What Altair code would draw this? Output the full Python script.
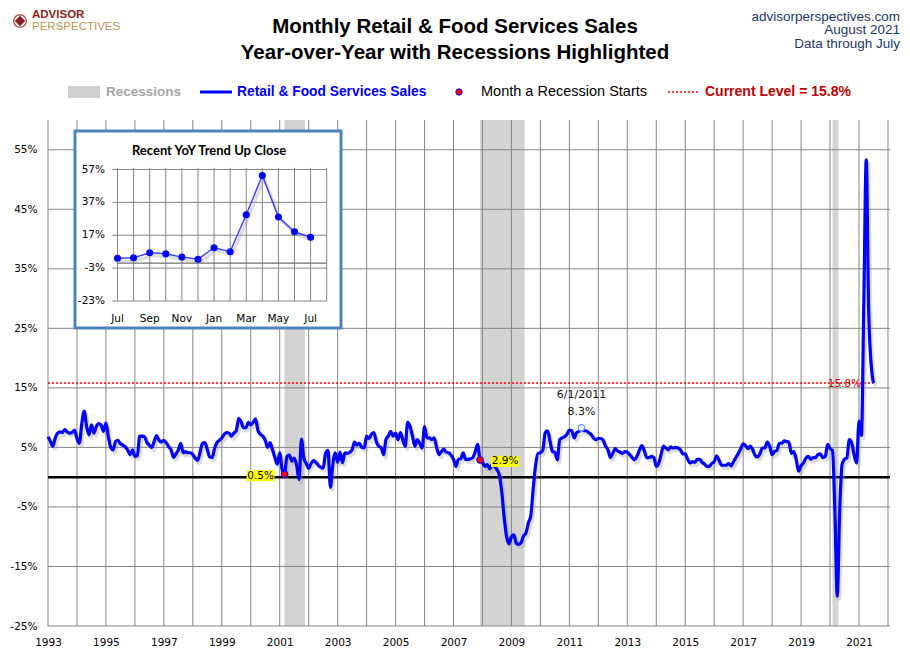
import altair as alt
import pandas as pd

# ---------------- data ----------------
# Year-over-year % change, monthly Jan..Dec
yoy_1993 = [6.8, 6.0, 5.2, 6.6, 7.4, 7.6, 7.5, 8.0, 7.6, 7.4, 7.5, 7.9]
yoy_1994 = [6.5, 5.7, 9.0, 11.1, 8.5, 7.1, 8.8, 7.4, 8.5, 9.0, 8.8, 7.7]
yoy_1995 = [9.1, 6.8, 5.0, 4.6, 6.0, 6.2, 5.6, 5.4, 5.1, 4.6, 3.8, 4.6]
yoy_1996 = [3.5, 3.6, 6.9, 6.9, 6.8, 5.8, 5.4, 5.0, 6.0, 7.0, 6.2, 5.9]
yoy_1997 = [6.2, 5.8, 5.1, 4.6, 3.3, 3.9, 4.6, 5.7, 4.1, 4.3, 4.1, 4.1]
yoy_1998 = [3.8, 3.2, 2.8, 4.2, 5.7, 5.8, 4.6, 3.4, 3.3, 4.8, 5.8, 6.2]
yoy_1999 = [6.6, 7.2, 7.5, 7.4, 6.9, 7.4, 7.8, 9.9, 9.3, 8.3, 8.3, 9.2]
yoy_2000 = [8.8, 9.2, 9.8, 7.8, 7.2, 6.9, 6.2, 5.0, 5.8, 4.6, 3.3, 2.2]
yoy_2001 = [4.1, 1.3, 0.5, 3.5, 3.7, 2.7, 3.2, 2.0, -0.4, 6.4, 3.2, 2.3]
yoy_2002 = [1.5, 2.3, 2.8, 2.5, 2.0, 1.7, 1.5, 4.0, 4.5, -1.7, 2.1, 4.1]
yoy_2003 = [2.5, 4.2, 2.4, 4.1, 4.0, 4.2, 4.6, 5.9, 5.4, 5.7, 5.0, 4.9]
yoy_2004 = [6.9, 6.5, 7.2, 7.5, 6.0, 5.2, 5.0, 3.8, 6.3, 6.9, 7.7, 6.9]
yoy_2005 = [7.4, 6.3, 7.5, 6.3, 5.2, 9.2, 8.5, 6.9, 5.2, 6.3, 5.7, 4.9]
yoy_2006 = [8.5, 6.6, 6.6, 6.3, 6.6, 5.0, 3.8, 4.3, 4.7, 4.2, 4.1, 3.7]
yoy_2007 = [3.0, 1.8, 3.0, 3.1, 4.1, 3.0, 3.0, 3.1, 3.3, 4.3, 5.5, 2.9]
yoy_2008 = [2.5, 1.8, 2.1, 1.4, 2.1, 1.8, 1.3, 0.3, -2.5, -6.8, -10.0, -11.2]
yoy_2009 = [-10.0, -9.7, -11.1, -11.3, -11.0, -9.9, -9.4, -7.7, -6.5, -2.0, 2.0, 4.0]
yoy_2010 = [4.1, 4.6, 7.5, 7.8, 6.0, 4.3, 4.2, 2.9, 6.3, 6.6, 6.8, 7.2]
yoy_2011 = [7.9, 7.8, 6.6, 7.5, 7.7, 8.3, 7.8, 7.8, 7.5, 7.2, 6.6, 6.3]
yoy_2012 = [6.5, 6.5, 6.2, 5.2, 4.6, 3.3, 4.0, 4.8, 4.4, 4.2, 4.0, 4.3]
yoy_2013 = [4.2, 3.8, 3.3, 2.9, 3.5, 4.5, 5.3, 4.5, 3.3, 3.3, 3.5, 3.3]
yoy_2014 = [1.8, 2.3, 3.8, 5.2, 4.9, 4.6, 5.1, 4.9, 5.0, 4.9, 4.6, 3.9]
yoy_2015 = [3.9, 3.0, 2.4, 2.6, 2.5, 3.0, 3.0, 2.5, 2.2, 1.8, 1.8, 2.3]
yoy_2016 = [2.6, 3.6, 2.9, 2.0, 2.0, 2.0, 2.3, 1.9, 2.6, 3.3, 4.0, 4.8]
yoy_2017 = [5.6, 5.3, 4.8, 5.2, 4.6, 3.6, 3.4, 4.0, 4.9, 4.9, 5.9, 5.2]
yoy_2018 = [3.8, 4.3, 4.5, 5.7, 5.7, 6.1, 6.0, 5.8, 4.0, 4.3, 2.9, 1.0]
yoy_2019 = [1.9, 2.4, 3.2, 3.5, 3.0, 3.3, 3.3, 3.8, 3.9, 3.3, 3.5, 5.5]
yoy_2020 = [4.8, 4.5, -5.6, -20.0, -5.6, 2.2, 3.0, 3.3, 6.3, 5.7, 3.7, 2.4]
yoy_2021 = [9.4, 7.0, 29.5, 53.3, 28.1, 19.1, 15.8]

series_years = list(range(1993, 2022))
series_values = [yoy_1993, yoy_1994, yoy_1995, yoy_1996, yoy_1997, yoy_1998,
                 yoy_1999, yoy_2000, yoy_2001, yoy_2002, yoy_2003, yoy_2004,
                 yoy_2005, yoy_2006, yoy_2007, yoy_2008, yoy_2009, yoy_2010,
                 yoy_2011, yoy_2012, yoy_2013, yoy_2014, yoy_2015, yoy_2016,
                 yoy_2017, yoy_2018, yoy_2019, yoy_2020, yoy_2021]

recession_starts = ["2001-03", "2007-12", "2020-02"]
recession_ends = ["2001-11", "2009-06", "2020-04"]
recession_start_dots = ["2001-03", "2007-12"]
recession_dot_labels = ["0.5%", "2.9%"]
peak_month = "2011-06"
peak_labels = ["6/1/2011", "8.3%"]
current_level = 15.8
current_label = "15.8%"

y_ticks = [-25, -15, -5, 5, 15, 25, 35, 45, 55]
x_label_years = list(range(1993, 2022, 2))
grid_years = list(range(1993, 2023))
x_min, x_max = 1993.0, 2022.07
y_min, y_max = -25, 60

inset_month_names = ["Jul", "Aug", "Sep", "Oct", "Nov", "Dec", "Jan", "Feb",
                     "Mar", "Apr", "May", "Jun", "Jul"]
inset_ticks = [-23, -3, 17, 37, 57]
inset_label_every = 2

# ---------------- tables ----------------
def month_t(s):
    y, m = s.split("-")
    return int(y) + (int(m) - 1) / 12.0

rows = []
for yr, vals in zip(series_years, series_values):
    for m, v in enumerate(vals):
        rows.append({"t": yr + m / 12.0, "v": v, "ym": f"{yr}-{m + 1:02d}"})
main_df = pd.DataFrame(rows)
lookup = dict(zip(main_df["ym"], main_df["v"]))

rec_df = pd.DataFrame({
    "start": [month_t(s) for s in recession_starts],
    "end": [month_t(e) + 0.5 / 12 for e in recession_ends],
    "y0": y_min, "y1": y_max})
hgrid_df = pd.DataFrame({"y": y_ticks, "x0": x_min, "x1": x_max})
vgrid_df = pd.DataFrame({"x": grid_years, "y0": y_min, "y1": y_max})
zero_df = pd.DataFrame({"y": [0], "x0": [x_min], "x1": [x_max]})
cur_df = pd.DataFrame({"y": [current_level], "x0": [main_df["t"].min()],
                       "x1": [main_df["t"].max()]})
dots_df = pd.DataFrame({"t": [month_t(s) for s in recession_start_dots],
                        "v": [lookup[s] for s in recession_start_dots],
                        "lab": recession_dot_labels})
peak_df = pd.DataFrame({"t": [month_t(peak_month)], "v": [lookup[peak_month]],
                        "l1": [peak_labels[0]], "l2": [peak_labels[1]]})
curlab_df = pd.DataFrame({"t": [2020.5], "v": [current_level], "lab": [current_label]})

inset_vals = main_df["v"].tolist()[-len(inset_month_names):]
inset_df = pd.DataFrame({"i": list(range(len(inset_month_names))),
                         "v": inset_vals, "m": inset_month_names})
inset_lab_df = inset_df[inset_df["i"] % inset_label_every == 0]
n_int = len(inset_month_names)
ihgrid_df = pd.DataFrame({"y": inset_ticks, "x0": -0.33, "x1": n_int,
                          "lab": [f"{t}%" for t in inset_ticks]})
ivgrid_df = pd.DataFrame({"x": list(range(n_int + 1)), "y0": inset_ticks[0],
                          "y1": inset_ticks[-1] + 1})
izero_df = pd.DataFrame({"y": [0], "x0": [0], "x1": [n_int]})

# ---------------- main scales ----------------
xs = alt.Scale(domain=[x_min, x_max], nice=False, zero=False)
ys = alt.Scale(domain=[y_min, y_max], nice=False, zero=False)
x_axis = alt.Axis(values=x_label_years, format="d", labelFlush=False,
                  labelPadding=11, title=None)
y_axis = alt.Axis(values=y_ticks, labelExpr="datum.value + '%'",
                  labelPadding=11, title=None)

def X(f):
    return alt.X(f, type="quantitative", scale=xs, axis=x_axis)

def Y(f):
    return alt.Y(f, type="quantitative", scale=ys, axis=y_axis)

GRID = "#868686"

shade = alt.Chart(rec_df).mark_rect(color="#D3D3D3").encode(
    x=X("start"), x2="end", y=Y("y0"), y2="y1")
vgrid = alt.Chart(vgrid_df).mark_rule(color=GRID, strokeWidth=1).encode(
    x=X("x"), y=Y("y0"), y2="y1")
hgrid = alt.Chart(hgrid_df).mark_rule(color=GRID, strokeWidth=1).encode(
    x=X("x0"), x2="x1", y=Y("y"))
zero = alt.Chart(zero_df).mark_rule(color="black", strokeWidth=2.5).encode(
    x=X("x0"), x2="x1", y=Y("y"))
cur = alt.Chart(cur_df).mark_rule(color="#FF0000", strokeWidth=1.5,
                                  strokeDash=[2, 2]).encode(
    x=X("x0"), x2="x1", y=Y("y"))
shadow = alt.Chart(main_df).mark_line(color="#9a9aa8", strokeWidth=3.5, opacity=0.35,
                                      interpolate="monotone", xOffset=2, yOffset=3).encode(
    x=X("t"), y=Y("v"))
line = alt.Chart(main_df).mark_line(color="#0000FF", strokeWidth=3.2,
                                    interpolate="monotone", strokeJoin="round").encode(
    x=X("t"), y=Y("v"))
dots = alt.Chart(dots_df).mark_point(filled=True, fill="#FF0000", stroke="#0000FF",
                                     strokeWidth=1, size=45, opacity=1).encode(
    x=X("t"), y=Y("v"))
peak = alt.Chart(peak_df).mark_point(filled=True, fill="white", stroke="#6495ED",
                                     strokeWidth=1.2, size=40, opacity=1).encode(
    x=X("t"), y=Y("v"))
peak_t1 = alt.Chart(peak_df).mark_text(font="DejaVu Sans", fontSize=11, dy=-33,
                                       color="#111").encode(x=X("t"), y=Y("v"), text="l1:N")
peak_t2 = alt.Chart(peak_df).mark_text(font="DejaVu Sans", fontSize=11, dy=-16,
                                       color="#111").encode(x=X("t"), y=Y("v"), text="l2:N")

d1 = dots_df.iloc[[0]]
d2 = dots_df.iloc[[1]]
box1 = alt.Chart(d1).mark_rect(color="#FFFF00", xOffset=-38, x2Offset=-10,
                               yOffset=-4, y2Offset=7).encode(
    x=X("t"), x2="t", y=Y("v"), y2="v")
txt1 = alt.Chart(d1).mark_text(font="DejaVu Sans", fontSize=10.5, dx=-24, dy=1.5,
                               color="black").encode(x=X("t"), y=Y("v"), text="lab:N")
box2 = alt.Chart(d2).mark_rect(color="#FFFF00", xOffset=11, x2Offset=39,
                               yOffset=-4, y2Offset=7).encode(
    x=X("t"), x2="t", y=Y("v"), y2="v")
txt2 = alt.Chart(d2).mark_text(font="DejaVu Sans", fontSize=10.5, dx=25, dy=1.5,
                               color="black").encode(x=X("t"), y=Y("v"), text="lab:N")
curlab = alt.Chart(curlab_df).mark_text(font="DejaVu Sans", fontSize=10.5, dy=1,
                                        color="#D00000").encode(
    x=X("t"), y=Y("v"), text="lab:N")

# ---------------- header & legend (layout annotations) ----------------
SANS = "Liberation Sans, Arial, sans-serif"

def label(text, x, y, **kw):
    return alt.Chart(pd.DataFrame({"s": [text]})).mark_text(baseline="middle", **kw).encode(
        x=alt.value(x), y=alt.value(y), text="s:N")

title1 = label("Monthly Retail & Food Services Sales", 407, -93, font=SANS,
               fontSize=20.5, fontWeight="bold", color="black", align="center")
title2 = label("Year-over-Year with Recessions Highlighted", 407, -67, font=SANS,
               fontSize=20.5, fontWeight="bold", color="black", align="center")
hr1 = label("advisorperspectives.com", 852, -103.5, font=SANS, fontSize=13.5,
            color="#1F3864", align="right")
hr2 = label("August  2021", 852, -90, font=SANS, fontSize=13.5,
            color="#1F3864", align="right")
hr3 = label("Data through July", 852, -76.5, font=SANS, fontSize=13.5,
            color="#1F3864", align="right")
logo1 = label("ADVISOR", -16, -105.5, font=SANS, fontSize=11.5,
              fontWeight="bold", color="#8B1E1E", align="left")
logo2 = label("PERSPECTIVES", -16, -93, font=SANS, fontSize=11.5,
              color="#B8955A", align="left")
logo_ring = alt.Chart(pd.DataFrame({"s": [1]})).mark_point(
    shape="circle", size=160, stroke="#8B1E1E", strokeWidth=1.5, filled=False).encode(
    x=alt.value(-28), y=alt.value(-99))
logo_star = alt.Chart(pd.DataFrame({"s": [1]})).mark_point(
    shape="diamond", size=110, fill="#8B1E1E", filled=True, opacity=1).encode(
    x=alt.value(-28), y=alt.value(-99))

LY = -28
leg_rect = alt.Chart(pd.DataFrame({"s": [1]})).mark_rect(color="#D0D0D0").encode(
    x=alt.value(20), x2=alt.value(52), y=alt.value(LY - 6), y2=alt.value(LY + 6))
leg_t1 = label("Recessions", 58, LY, font=SANS, fontSize=13.5, fontWeight="bold",
               color="#A6A6A6", align="left")
leg_line = alt.Chart(pd.DataFrame({"s": [1]})).mark_rule(color="#0000FF", strokeWidth=3).encode(
    x=alt.value(152), x2=alt.value(184), y=alt.value(LY))
leg_t2 = label("Retail & Food Services Sales", 189, LY, font=SANS, fontSize=13.8,
               fontWeight="bold", color="#0000FF", align="left")
leg_dot = alt.Chart(pd.DataFrame({"s": [1]})).mark_point(
    filled=True, fill="#FF0000", stroke="#0000FF", strokeWidth=1, size=40, opacity=1).encode(
    x=alt.value(411), y=alt.value(LY))
leg_t3 = label("Month a Recession Starts", 433, LY, font=SANS, fontSize=14.5,
               color="black", align="left")
leg_dash = alt.Chart(pd.DataFrame({"s": [1]})).mark_rule(
    color="#FF0000", strokeWidth=1.5, strokeDash=[2, 2]).encode(
    x=alt.value(620), x2=alt.value(652), y=alt.value(LY))
leg_t4 = label("Current Level = 15.8%", 657, LY, font=SANS, fontSize=14,
               fontWeight="bold", color="#C00000", align="left")

main = alt.layer(shade, vgrid, hgrid, zero, cur, shadow, line, dots, peak,
                 peak_t1, peak_t2, box1, txt1, box2, txt2, curlab,
                 title1, title2, hr1, hr2, hr3, logo_ring, logo_star, logo1, logo2,
                 leg_rect, leg_t1, leg_line, leg_t2, leg_dot, leg_t3, leg_dash, leg_t4)

# ---------------- inset ----------------
ixs = alt.Scale(domain=[0, n_int], range=[69.5, 278.7], nice=False, zero=False)
iys = alt.Scale(domain=[inset_ticks[0], inset_ticks[-1]], range=[181, 49.5],
                nice=False, zero=False)

def IX(f):
    return alt.X(f, type="quantitative", scale=ixs, axis=None)

def IY(f):
    return alt.Y(f, type="quantitative", scale=iys, axis=None)

ibox = alt.Chart(pd.DataFrame({"s": [1]})).mark_rect(
    fill="white", stroke="#4F81BD", strokeWidth=3).encode(
    x=alt.value(27), x2=alt.value(293), y=alt.value(11), y2=alt.value(208))
ititle = label("Recent  YoY Trend Up Close", 161, 31, font="Lato", fontSize=13,
               fontWeight="bold", color="black", align="center")
ihg = alt.Chart(ihgrid_df).mark_rule(color=GRID, strokeWidth=1).encode(
    x=IX("x0"), x2="x1", y=IY("y"))
ivg = alt.Chart(ivgrid_df).mark_rule(color=GRID, strokeWidth=1).encode(
    x=IX("x"), y=IY("y0"), y2="y1")
izero = alt.Chart(izero_df).mark_rule(color="#707070", strokeWidth=1.3).encode(
    x=IX("x0"), x2="x1", y=IY("y"))
ishadow = alt.Chart(inset_df).mark_line(color="#9a9aa8", strokeWidth=3, opacity=0.35,
                                        xOffset=2, yOffset=3).encode(
    x=IX("i"), y=IY("v"))
iline = alt.Chart(inset_df).mark_line(color="#4040FF", strokeWidth=1.5).encode(
    x=IX("i"), y=IY("v"))
ipts = alt.Chart(inset_df).mark_point(filled=True, color="#0000FF", size=50,
                                      opacity=1).encode(x=IX("i"), y=IY("v"))
iylab = alt.Chart(ihgrid_df).mark_text(font="DejaVu Sans", fontSize=10.5, align="right",
                                       baseline="middle", color="black").encode(
    x=alt.value(57), y=IY("y"), text="lab:N")
ixlab = alt.Chart(inset_lab_df).mark_text(font="DejaVu Sans", fontSize=10.5, align="center",
                                          baseline="middle", color="black").encode(
    x=IX("i"), y=alt.value(198.5), text="m:N")

inset = alt.layer(ibox, ititle, ivg, ihg, izero, ishadow, iline, ipts, iylab, ixlab)

chart = alt.layer(main, inset).resolve_scale(x="independent", y="independent").properties(
    width=842, height=506, autosize="none",
    padding={"left": 40, "top": 112, "right": 12, "bottom": 25},
    background="white",
).configure_view(stroke=None).configure_axis(
    labelFont="DejaVu Sans", labelFontSize=10.5, labelColor="black",
    domain=False, ticks=False, grid=False)

chart.save("out.html", embed_options={"renderer": "svg", "actions": False})
